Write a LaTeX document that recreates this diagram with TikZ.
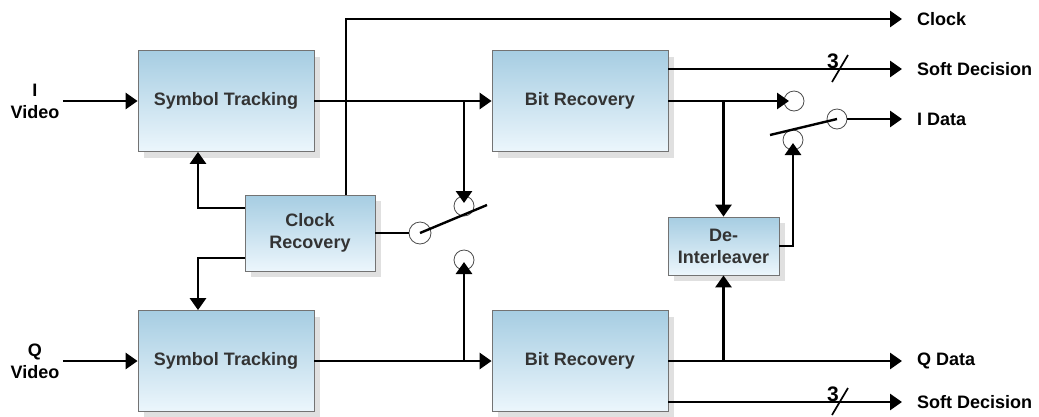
\documentclass[tikz,border=0pt]{standalone}
\usepackage{fontspec}
\setmainfont{Liberation Sans}
\usepackage{tikz}
\usetikzlibrary{arrows.meta,shadows,calc}
\usepackage{xcolor}
\definecolor{boxtop}{RGB}{166,205,226}
\definecolor{boxbot}{RGB}{236,246,252}
\tikzset{
  txt/.style={font=\bfseries\fontsize{18}{22}\selectfont},
  blk/.style={txt, draw=black!55, line width=0.8pt, top color=boxtop, bottom color=boxbot,
    text=black!80, align=center, inner sep=0pt,
    drop shadow={shadow xshift=6pt, shadow yshift=-6pt, fill=black!12, opacity=1}},
  wire/.style={line width=2.8pt},
  arr/.style={wire, -{Triangle[length=12pt,width=16pt]}},
  contact/.style={circle, draw=black!70, line width=0.8pt, fill=white, minimum size=20pt, inner sep=0pt},
  sig/.style={txt, anchor=west, inner xsep=15pt, inner ysep=0pt},
  buswd/.style={font=\bfseries\fontsize{21}{24}\selectfont, inner sep=0pt},
}

\begin{document}
\begin{tikzpicture}[x=1pt, y=-1pt]
\useasboundingbox (0,0) rectangle (1039,416);

\node [blk, minimum width=176pt, minimum height=101pt] (st1) at (226,101) {Symbol Tracking};
\node [blk, minimum width=176pt, minimum height=101pt] (st2) at (226,361) {Symbol Tracking};
\node [blk, minimum width=176pt, minimum height=101pt] (br1) at (580,101) {Bit Recovery};
\node [blk, minimum width=176pt, minimum height=101pt] (br2) at (580,361) {Bit Recovery};
\node [blk, minimum width=130pt, minimum height=76pt] (clkrec) at (310,233) {Clock\\Recovery};
\node [blk, minimum width=111pt, minimum height=58pt] (deint) at (723.5,246) {De-\\Interleaver};

\node [txt, align=center] (ivid) at (35,101) {I\\Video};
\node [txt, align=center] (qvid) at (35,361) {Q\\Video};

\node [sig] (clk) at (902,19) {Clock};
\node [sig] (sd1) at (902,69) {Soft Decision};
\node [sig] (idat) at (902,119) {I Data};
\node [sig] (qdat) at (902,361) {Q Data};
\node [sig] (sd2) at (902,402) {Soft Decision};

% switch contacts
\node [contact, minimum size=22pt] (c1p) at (420,233) {};
\node [contact] (c1a) at (464,206) {};
\node [contact] (c1b) at (464,260) {};
\node [contact] (c2p) at (837,119) {};
\node [contact] (c2a) at (794,101) {};
\node [contact] (c2b) at (793,140) {};

\draw [arr] (ivid) -- (st1);
\draw [arr] (qvid) -- (st2);
\draw [arr] (st1) -- (br1);
\draw [arr] (st2) -- (br2);

\draw [arr] ([xshift=36pt]clkrec.north) |- (clk);
\draw [arr] ([yshift=25pt]clkrec.west) -| ([xshift=-28pt]st1.south);
\draw [arr] ([yshift=-25pt]clkrec.west) -| ([xshift=-28pt]st2.north);

\draw [wire] (clkrec.east) -- (c1p);
\draw [arr] (st1.east -| c1a) -- ([yshift=3pt]c1a.center);
\draw [arr] (st2.east -| c1b) -- ([yshift=-2pt]c1b.center);
\draw [wire, line width=2.4pt] (c1p.center) -- (487,205);

\draw [arr] (br1.east |- sd1) -- (sd1);
\draw [arr] (br2.east |- sd2) -- (sd2);
\draw [arr] (br2) -- (qdat);
\draw [arr] (br1) -- ([xshift=-5pt]c2a.center);
\draw [arr] (br1.east -| deint) -- (deint.north);
\draw [arr] (br2.east -| deint) -- (deint.south);
\draw [arr] (deint.east) -| ([yshift=-3pt]c2b.center);
\draw [wire, line width=2.4pt] (c2p.center) -- (770,135);
\draw [arr] (c2p) -- (idat);

% bus width marks
\draw [line width=1.7pt] ($(840,69)+(-8,13)$) -- ++(16,-27);
\node [buswd] at (833,61) {3};
\draw [line width=1.7pt] ($(840,402)+(-8,13)$) -- ++(16,-27);
\node [buswd] at (833,394) {3};
\end{tikzpicture}
\end{document}
